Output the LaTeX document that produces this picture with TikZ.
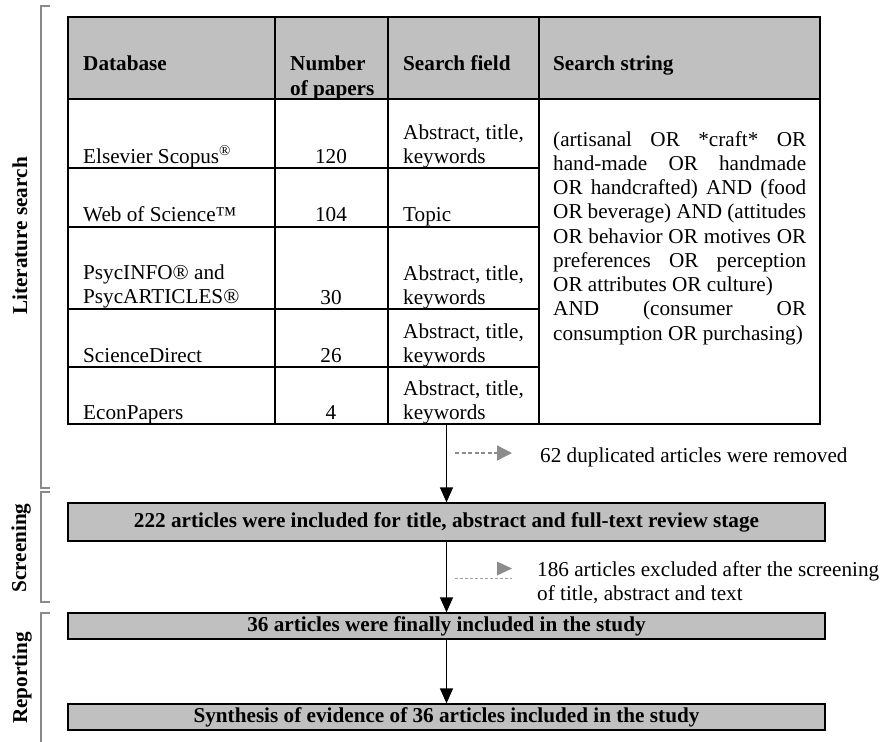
\documentclass[tikz,border=0pt]{standalone}
\usepackage{fontspec}
\setmainfont{Liberation Serif}
\usetikzlibrary{arrows.meta}
\definecolor{hdrgray}{HTML}{C0C0C0}
\definecolor{brgray}{HTML}{8A8A8A}
\definecolor{dgray}{HTML}{8C8C8C}
\begin{document}
\begin{tikzpicture}[x=1pt,y=-1pt,
  txt/.style={font=\fontsize{21.2}{24.3}\selectfont, inner sep=0pt},
  bold/.style={font=\fontsize{21.2}{24.3}\selectfont\bfseries, inner sep=0pt},
  cellL/.style={txt, anchor=base west},
  cellC/.style={txt, anchor=base},
  hdrL/.style={bold, anchor=base west},
  stagebox/.style={draw=black, line width=1.3pt, fill=hdrgray, bold, inner sep=0pt, minimum width=757pt},
  tline/.style={line width=1.1pt},
  mainarrow/.style={line width=1.4pt, -{Triangle[width=13pt,length=15pt]}},
  dasharrow/.style={dgray, line width=1.4pt, dash pattern=on 4pt off 2.5pt, -{Triangle[width=15pt,length=15pt]}},
  bracket/.style={brgray, line width=1.4pt},
  sidelabel/.style={bold, rotate=90, anchor=center}]
\useasboundingbox (0,0) rectangle (884,742);
% table
\fill[hdrgray] (68,17) rectangle (820,99);
\node[draw, tline, minimum width=752pt, minimum height=407pt, inner sep=0pt] (tbl) at (444,220.5) {};
\draw[tline] (68,99) -- (820,99);
\foreach \yy in {168,227,309,367} \draw[tline] (68,\yy) -- (539,\yy);
\foreach \xx in {275,388,539} \draw[tline] (\xx,17) -- (\xx,424);
% headers
\node[hdrL] (hDb) at (83,70) {Database};
\node[hdrL] (hNum1) at (290,70) {Number};
\node[hdrL] (hNum2) at (290,95) {of papers};
\node[hdrL] (hFld) at (403,70) {Search field};
\node[hdrL] (hStr) at (553,70) {Search string};
% rows
\node[cellL] (db1) at (83,163) {Elsevier Scopus\textsuperscript{®}};
\node[cellC] (n1) at (331,163) {120};
\node[cellL] (f1a) at (403,139) {Abstract, title,};
\node[cellL] (f1b) at (403,163) {keywords};
\node[cellL] (db2) at (83,221) {Web of Science™};
\node[cellC] (n2) at (331,221) {104};
\node[cellL] (f2) at (403,221) {Topic};
\node[cellL] (db3a) at (83,279) {PsycINFO® and};
\node[cellL] (db3b) at (83,303) {PsycARTICLES®};
\node[cellC] (n3) at (331,304) {30};
\node[cellL] (f3a) at (403,280) {Abstract, title,};
\node[cellL] (f3b) at (403,304) {keywords};
\node[cellL] (db4) at (83,362) {ScienceDirect};
\node[cellC] (n4) at (331,362) {26};
\node[cellL] (f4a) at (403,338) {Abstract, title,};
\node[cellL] (f4b) at (403,362) {keywords};
\node[cellL] (db5) at (83,419) {EconPapers};
\node[cellC] (n5) at (331,419) {4};
\node[cellL] (f5a) at (403,395) {Abstract, title,};
\node[cellL] (f5b) at (403,419) {keywords};
% search string
\node[cellL] (s1l) at (553,146) {\makebox[253pt][s]{(artisanal OR *craft* OR}};
\node[cellL] (s2l) at (553,170.25) {\makebox[253pt][s]{hand-made OR handmade}};
\node[cellL] (s3l) at (553,194.5) {\makebox[253pt][s]{OR handcrafted) AND (food}};
\node[cellL] (s4l) at (553,218.75) {\makebox[253pt][s]{OR beverage) AND (attitudes}};
\node[cellL] (s5l) at (553,243) {\makebox[253pt][s]{OR behavior OR motives OR}};
\node[cellL] (s6l) at (553,267.25) {\makebox[253pt][s]{preferences OR perception}};
\node[cellL] (s7l) at (553,291.5) {OR attributes OR culture)};
\node[cellL] (s8l) at (553,315.75) {\makebox[253pt][s]{AND (consumer OR}};
\node[cellL] (s9l) at (553,340) {consumption OR purchasing)};
% stage boxes
\node[stagebox, minimum height=38pt] (st1) at (446.5,522) {222 articles were included for title, abstract and full-text review stage};
\node[stagebox, minimum height=26pt] (st2) at (446.5,626) {36 articles were finally included in the study};
\node[stagebox, minimum height=26pt] (st3) at (446.5,717) {Synthesis of evidence of 36 articles included in the study};
% main arrows
\draw[mainarrow] (tbl.south -| st1.north) -- (st1.north);
\draw[mainarrow] (st1.south) -- (st2.north);
\draw[mainarrow] (st2.south) -- (st3.north);
% side arrows
\coordinate (d1s) at (455,453);
\coordinate (d1e) at (512,453);
\draw[dasharrow] (d1s) -- (d1e);
\node[cellL] (rem) at (540,462) {62 duplicated articles were removed};
\coordinate (d2s) at (455,578);
\coordinate (d2e) at (512,578);
\draw[dgray!80, line width=0.9pt, dash pattern=on 3pt off 2pt] (d2s) -- (d2e);
\fill[dgray] (497,561.5) -- (512,568.5) -- (497,575.5) -- cycle;
\node[cellL] (exc1) at (537,576) {186 articles excluded after the screening};
\node[cellL] (exc2) at (537,600) {of title, abstract and text};
% brackets
\draw[bracket] (50,6) -- (41,6) -- (41,488) -- (50,488);
\draw[bracket] (50,492) -- (41,492) -- (41,602) -- (50,602);
\draw[bracket] (50,613) -- (41,613) -- (41,742);
\node[sidelabel] (lab1) at (20,236) {Literature search};
\node[sidelabel] (lab2) at (21,548) {Screening};
\node[sidelabel] (lab3) at (22,678) {Reporting};
\end{tikzpicture}
\end{document}
